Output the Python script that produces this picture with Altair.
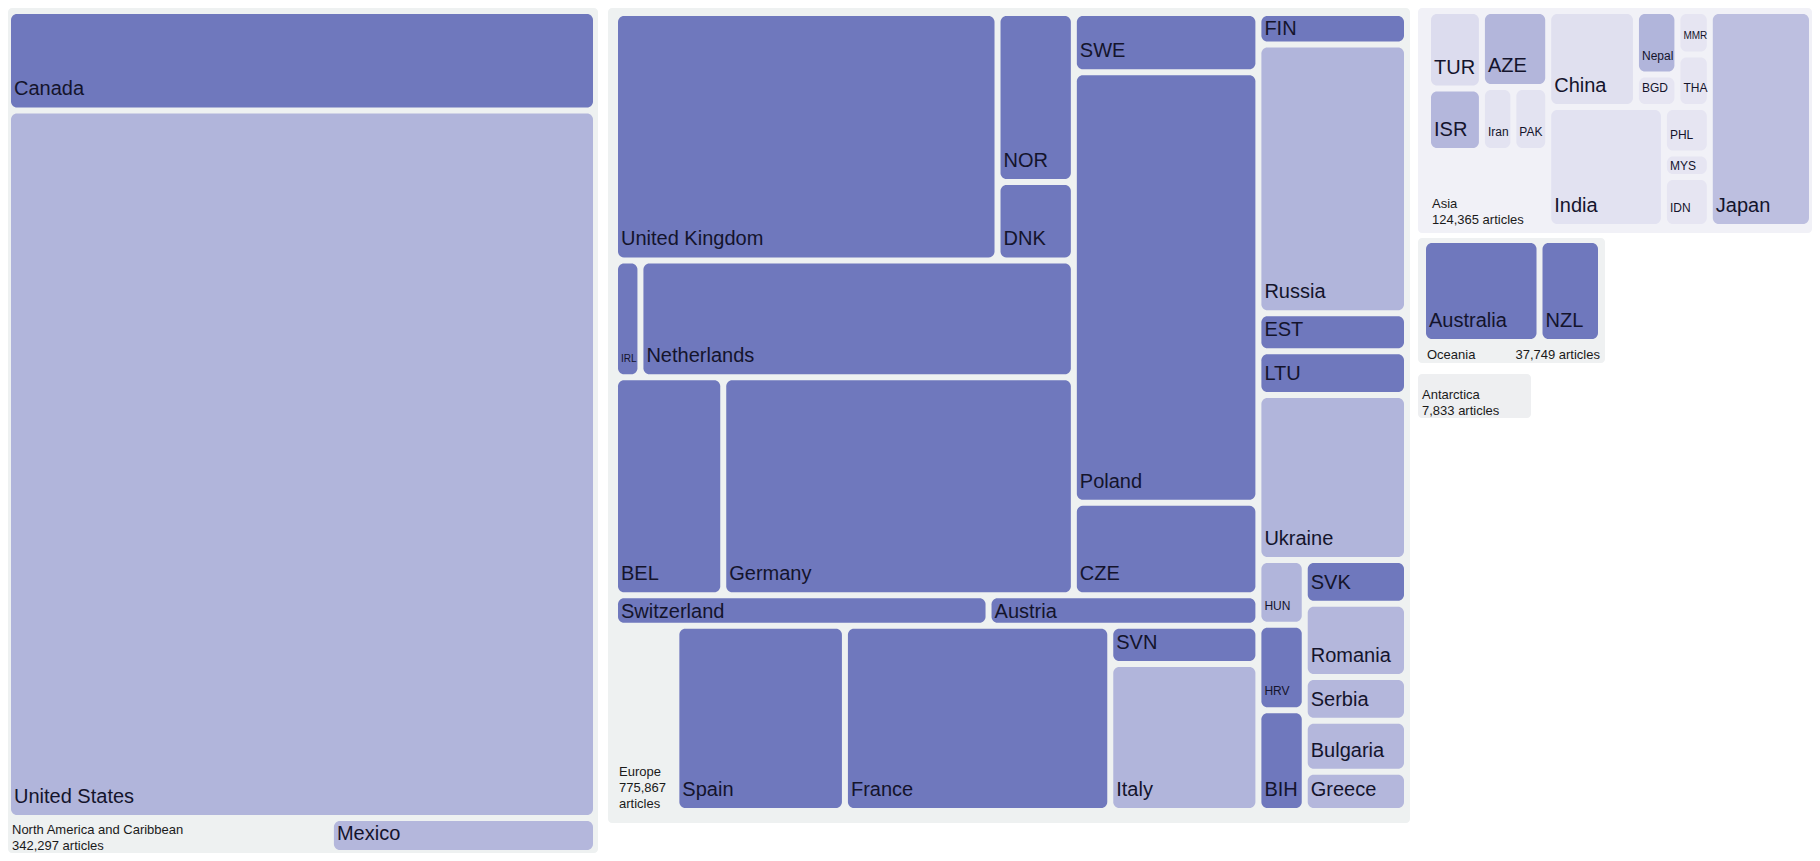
import altair as alt
import pandas as pd

FONT = "Liberation Sans"

# ---------------- data (sizes, relative units) ----------------
na_countries = ["Canada", "United States", "Mexico"]
na_size = [5870, 41742, 931]
na_tone = [1.0, 0.47, 0.45]
na_other = 1134
na_name, na_articles = "North America and Caribbean", 342297

eu_countries = ["United Kingdom", "NOR", "DNK", "IRL", "Netherlands", "BEL", "Germany",
                "SWE", "Poland", "CZE", "Switzerland", "Austria", "Spain", "France",
                "SVN", "Italy", "FIN", "Russia", "EST", "LTU", "Ukraine", "HUN", "HRV",
                "BIH", "SVK", "Romania", "Serbia", "Bulgaria", "Greece"]
eu_size = [9453, 1289, 597, 297, 5062, 2355, 7628,
           1092, 7937, 1702, 1142, 825, 3118, 4908,
           564, 2176, 469, 3986, 566, 648, 2451, 300, 395,
           467, 446, 748, 446, 523, 400]
eu_tone = [1, 1, 1, 1, 1, 1, 1,
           1, 1, 1, 1, 1, 1, 1,
           1, 0.47, 1, 0.47, 1, 1, 0.47, 0.47, 1,
           1, 1, 0.45, 0.45, 0.45, 0.45]
eu_other = 1135
eu_name, eu_articles = "Europe", 775867

as_countries = ["TUR", "ISR", "AZE", "Iran", "PAK", "China", "Nepal", "BGD", "MMR", "THA",
                "India", "PHL", "MYS", "IDN", "Japan"]
as_size = [419, 338, 505, 202, 224, 845, 264, 135, 141, 171, 1392, 214, 108, 230, 2214]
as_tone = [0.13, 0.45, 0.46, 0.07, 0.07, 0.1, 0.47, 0.05, 0.05, 0.05, 0.08, 0.05, 0.05, 0.05, 0.38]
as_other = 916
as_name, as_articles = "Asia", 124365

oc_countries = ["Australia", "NZL"]
oc_size = [1188, 627]
oc_tone = [1.0, 1.0]
oc_other = 374
oc_name, oc_articles = "Oceania", 37749

an_countries = []
an_size = []
an_tone = []
an_other = 1
an_name, an_articles = "Antarctica", 7833

# nesting of the treemap ("h" = side by side, "v" = stacked); "#other" = unlisted remainder
NA_TREE = ("v", ["Canada", "United States", ("h", ["#other", "Mexico"])])
EU_TREE = ("h", [
    ("v", [
        ("h", [
            ("v", [("h", ["United Kingdom", ("v", ["NOR", "DNK"])]),
                   ("h", ["IRL", "Netherlands"]),
                   ("h", ["BEL", "Germany"])]),
            ("v", ["SWE", "Poland", "CZE"])]),
        ("h", ["Switzerland", "Austria"]),
        ("h", ["#other", "Spain", "France", ("v", ["SVN", "Italy"])])]),
    ("v", ["FIN", "Russia", "EST", "LTU", "Ukraine",
           ("h", [("v", ["HUN", "HRV", "BIH"]),
                  ("v", ["SVK", "Romania", "Serbia", "Bulgaria", "Greece"])])])])
AS_TREE = ("h", [
    ("v", [("h", [("v", ["TUR", "ISR"]), ("v", ["AZE", ("h", ["Iran", "PAK"])])]), "#other"]),
    ("v", [("h", ["China", ("v", ["Nepal", "BGD"]), ("v", ["MMR", "THA"])]),
           ("h", ["India", ("v", ["PHL", "MYS", "IDN"])])]),
    "Japan"])
OC_TREE = ("v", [("h", ["Australia", "NZL"]), "#other"])
AN_TREE = "#other"

# ---------------- layout helpers ----------------
CW = {ch: w for ch, w in zip("ABCDEFGHIJKLMNOPQRSTUVWXYZ",
      [667, 667, 722, 722, 667, 611, 778, 722, 278, 500, 667, 556, 833, 722, 778, 667, 778,
       722, 667, 611, 722, 667, 944, 667, 667, 611])}
CW.update({ch: w for ch, w in zip("abcdefghijklmnopqrstuvwxyz",
      [556, 556, 500, 556, 556, 278, 556, 556, 222, 222, 500, 222, 833, 556, 556, 556, 556,
       333, 500, 278, 556, 500, 722, 500, 500, 500])})
CW.update({" ": 278, ",": 278, ".": 278})

LAB_FS = 13
LAB_LH = 16


def text_w(s, fs):
    return sum(CW.get(ch, 556) for ch in s) / 1000.0 * fs


def total(node, sz):
    if isinstance(node, str):
        return sz[node]
    return sum(total(k, sz) for k in node[1])


def layout(node, x0, y0, x1, y1, sz, out):
    if isinstance(node, str):
        out[node] = (x0, y0, x1, y1)
        return
    orient, kids = node
    tot = total(node, sz)
    pos = x0 if orient == "h" else y0
    for k in kids:
        frac = total(k, sz) / tot
        if orient == "h":
            nxt = pos + frac * (x1 - x0)
            layout(k, pos, y0, nxt, y1, sz, out)
        else:
            nxt = pos + frac * (y1 - y0)
            layout(k, x0, pos, x1, nxt, sz, out)
        pos = nxt


G = 3  # half gap between cells


def panel(tree, names, sizes, tones, other, cname, articles, W, H, area, bg):
    sz = dict(zip(names, sizes))
    sz["#other"] = other
    rects = {}
    layout(tree, area[0], area[1], area[2], area[3], sz, rects)

    cells, texts = [], []
    for n, t in zip(names, tones):
        x0, y0, x1, y1 = rects[n]
        ix0, iy0, ix1, iy1 = x0 + G, y0 + G, x1 - G, y1 - G
        cells.append(dict(name=n, x0=ix0, x1=ix1, y0=iy0, y1=iy1, tone=t))
        iw = ix1 - ix0
        a = (x1 - x0) * (y1 - y0)
        if text_w(n, 20) + 2 <= iw and a >= 3000:
            fs = 20
        elif text_w(n, 12) + 2 <= iw:
            fs = 12
        else:
            fs = 10
        base = max(iy1 - 12, iy0 + 0.72 * fs + 5)
        texts.append(dict(label=n, tx=ix0 + 3, ty=base, fs=fs))

    x0, y0, x1, y1 = rects["#other"]
    count = f"{articles:,} articles"
    lines = [cname]
    if text_w(count, LAB_FS) + 8 <= (x1 - x0):
        lines.append(count)
    else:
        lines += count.split(" ")
    left_rows, right_rows = [], []
    if (y1 - y0) < LAB_LH * (len(lines) - 1) + 14:
        left_rows.append(dict(label=cname, tx=x0 + 4, ty=y1 - 4))
        right_rows.append(dict(label=count, tx=x1 - 1, ty=y1 - 4))
    else:
        n = len(lines)
        for i, ln in enumerate(lines):
            left_rows.append(dict(label=ln, tx=x0 + 4, ty=y1 - 3 - LAB_LH * (n - 1 - i)))

    xs = alt.Scale(domain=[0, W], nice=False, zero=False)
    ys = alt.Scale(domain=[0, H], nice=False, zero=False, reverse=True)
    layers = []
    if cells:
        cdf = pd.DataFrame(cells)
        layers.append(
            alt.Chart(cdf).mark_rect(cornerRadius=6).encode(
                x=alt.X("x0:Q", scale=xs, axis=None),
                x2="x1:Q",
                y=alt.Y("y0:Q", scale=ys, axis=None),
                y2="y1:Q",
                color=alt.Color("tone:Q", legend=None,
                                scale=alt.Scale(domain=[0, 1], range=["#ecebf5", "#6f78bd"],
                                                interpolate="rgb")),
                tooltip=["name:N"],
            ))
        tdf = pd.DataFrame(texts)
        layers.append(
            alt.Chart(tdf).mark_text(align="left", baseline="alphabetic", font=FONT,
                                     color="#14142c").encode(
                x=alt.X("tx:Q", scale=xs, axis=None),
                y=alt.Y("ty:Q", scale=ys, axis=None),
                text="label:N",
                size=alt.Size("fs:Q", scale=None),
            ))
    layers.append(
        alt.Chart(pd.DataFrame(left_rows)).mark_text(
            align="left", baseline="alphabetic", font=FONT, fontSize=LAB_FS,
            color="#1a1a1a").encode(
            x=alt.X("tx:Q", scale=xs, axis=None),
            y=alt.Y("ty:Q", scale=ys, axis=None),
            text="label:N",
        ))
    if right_rows:
        layers.append(
            alt.Chart(pd.DataFrame(right_rows)).mark_text(
                align="right", baseline="alphabetic", font=FONT, fontSize=LAB_FS,
                color="#1a1a1a").encode(
                x=alt.X("tx:Q", scale=xs, axis=None),
                y=alt.Y("ty:Q", scale=ys, axis=None),
                text="label:N",
            ))
    return alt.layer(*layers).properties(
        width=W, height=H,
        view=alt.ViewBackground(fill=bg, cornerRadius=4, strokeWidth=0))


NA_W, NA_H = 590, 845
EU_W, EU_H = 802, 815
AS_W, AS_H = 394, 225
OC_W, OC_H = 187, 125
AN_W, AN_H = 113, 44

na = panel(NA_TREE, na_countries, na_size, na_tone, na_other, na_name, na_articles,
           NA_W, NA_H, (0, 3, NA_W - 2, NA_H), "#eef1f1")
eu = panel(EU_TREE, eu_countries, eu_size, eu_tone, eu_other, eu_name, eu_articles,
           EU_W, EU_H, (7, 5, EU_W - 3, 803), "#eef1f1")
asia = panel(AS_TREE, as_countries, as_size, as_tone, as_other, as_name, as_articles,
             AS_W, AS_H, (10, 3, AS_W, 219), "#f1f1f7")
oc = panel(OC_TREE, oc_countries, oc_size, oc_tone, oc_other, oc_name, oc_articles,
           OC_W, OC_H, (5, 2, 183, OC_H), "#eff1f2")
an = panel(AN_TREE, an_countries, an_size, an_tone, an_other, an_name, an_articles,
           AN_W, AN_H, (0, 0, AN_W, AN_H), "#eeeff1")

right = alt.vconcat(asia, alt.vconcat(oc, an, spacing=11, bounds="flush"),
                    spacing=5, bounds="flush")
chart = alt.hconcat(na, alt.hconcat(eu, right, spacing=8, bounds="flush"),
                    spacing=10, bounds="flush").properties(padding=0).configure_view(strokeWidth=0)

chart.save("out.html", embed_options={"renderer": "svg", "actions": False})
